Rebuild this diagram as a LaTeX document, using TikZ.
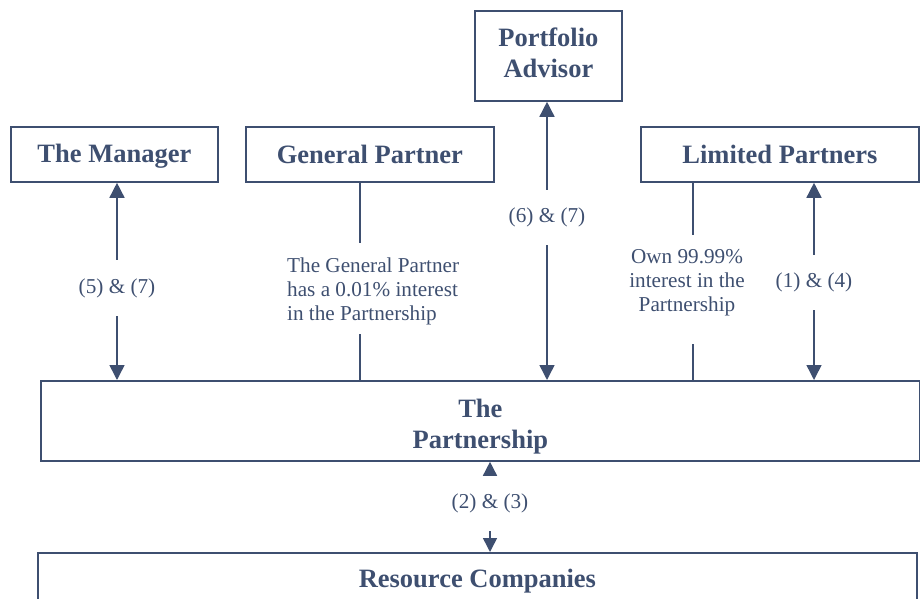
\documentclass[tikz,border=0pt]{standalone}
\usepackage{fontspec}
\setmainfont{Liberation Serif}
\usetikzlibrary{arrows.meta,calc}
\definecolor{ink}{RGB}{62,79,112}
\begin{document}
\begin{tikzpicture}[x=1pt,y=-1pt,
  box/.style={draw=ink,line width=1.8pt,text=ink,font=\fontsize{26.5}{31}\selectfont\bfseries,align=center,inner sep=0pt,anchor=north west},
  lbl/.style={text=ink,font=\fontsize{21.2}{24}\selectfont,inner sep=0pt,align=center},
  arr/.style={draw=ink,line width=1.5pt,-{Triangle[width=15pt,length=15pt]}},
  sarr/.style={draw=ink,line width=1.5pt,-{Triangle[width=14pt,length=14pt]}},
  ln/.style={draw=ink,line width=1.5pt}]
\useasboundingbox (0,0) rectangle (920,599);
\clip (0,0) rectangle (920,599);
% boxes
\node[box,minimum width=207pt,minimum height=55pt] (mgr) at (10,126) {\rule{0pt}{22pt}The Manager};
\node[box,minimum width=248pt,minimum height=55pt] (gp) at (245,126) {General Partner};
\node[box,minimum width=147pt,minimum height=90pt] (pa) at (474,10) {Portfolio\\Advisor\rule[-6pt]{0pt}{6pt}};
\node[box,minimum width=278pt,minimum height=55pt] (lp) at (640,126) {Limited Partners};
\node[box,minimum width=879pt,minimum height=80pt] (part) at (40,380) {\rule{0pt}{30pt}The\\Partnership};
\node[box,minimum width=879pt,minimum height=56pt] (res) at (37,552) {Resource Companies};
% Manager <-> Partnership
\node[lbl,minimum height=56pt] (l57) at (117,288) {(5) \& (7)};
\draw[arr] (l57.north) -- (l57.north |- mgr.south);
\draw[arr] (l57.south) -- (l57.south |- part.north);
% Portfolio Advisor <-> Partnership
\node[lbl,minimum height=55pt] (l67) at (547,217.5) {(6) \& (7)};
\draw[arr] (l67.north) -- (l67.north |- pa.south);
\draw[arr] (l67.south) -- (l67.south |- part.north);
% Limited Partners <-> Partnership
\node[lbl,minimum height=55pt] (l14) at (814,282.5) {(1) \& (4)};
\draw[arr] (l14.north) -- (l14.north |- lp.south);
\draw[arr] (l14.south) -- (l14.south |- part.north);
% General Partner ownership
\coordinate (g1) at (360,243);
\coordinate (g2) at (360,334);
\node[lbl,align=left,anchor=west] (gpt) at (287,291) {The General Partner\\has a 0.01\% interest\\in the Partnership};
\draw[ln] (g1 |- gp.south) -- (g1);
\draw[ln] (g2) -- (g2 |- part.north);
% Limited Partners ownership
\coordinate (p1) at (693,235);
\coordinate (p2) at (693,344);
\node[lbl] (lpt) at (687,283) {Own 99.99\%\\interest in the\\Partnership};
\draw[ln] (p1 |- lp.south) -- (p1);
\draw[ln] (p2) -- (p2 |- part.north);
% Partnership <-> Resource Companies
\node[lbl,minimum height=56pt] (l23) at (490,503) {(2) \& (3)};
\draw[sarr] (l23.north) -- (l23.north |- part.south);
\draw[sarr] (l23.south) -- (l23.south |- res.north);
\end{tikzpicture}
\end{document}
